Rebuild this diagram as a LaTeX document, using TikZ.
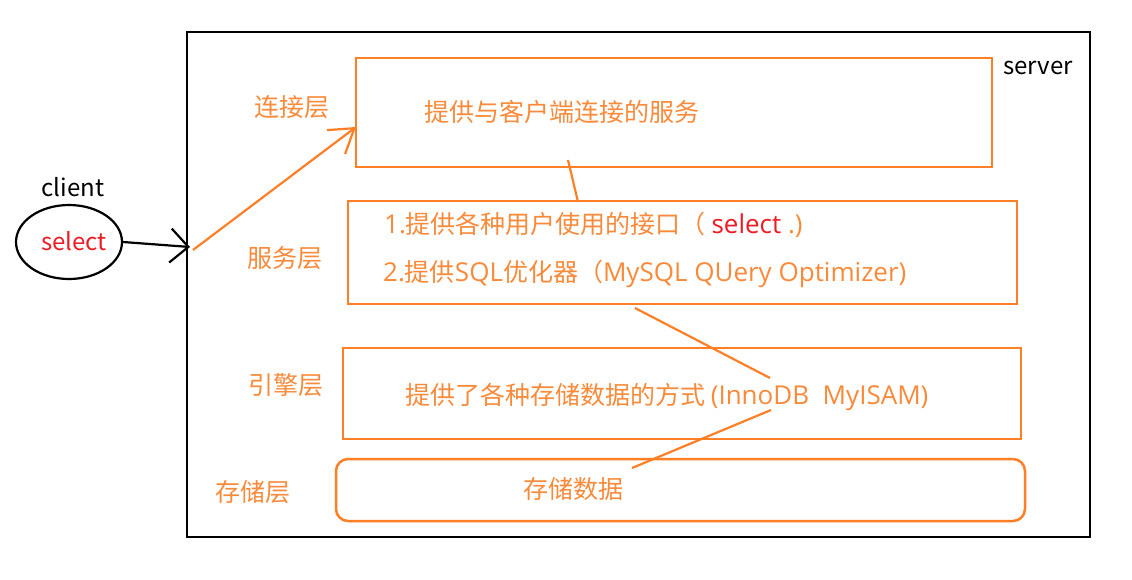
\documentclass[tikz,border=0pt]{standalone}
\usepackage{fontspec}
\setmainfont{Noto Sans CJK SC}
\newfontfamily\lat{Open Sans}
\newcommand\latin{\lat\fontsize{26}{29}\selectfont}
\usetikzlibrary{shapes.geometric,arrows.meta}
\definecolor{org}{HTML}{FF7F27}
\definecolor{orgtxt}{HTML}{F98A3A}
\definecolor{redtxt}{HTML}{ED1C24}
\begin{document}
\begin{tikzpicture}[x=1pt,y=-1pt,
  txt/.style={inner sep=0pt,font=\fontsize{24}{28}\selectfont},
  otxt/.style={inner sep=0pt,font=\fontsize{25}{29}\selectfont,text=orgtxt},
  layerbox/.style={draw=org,line width=2.5pt,inner sep=0pt},
  oline/.style={draw=org,line width=2.2pt},
]
\useasboundingbox[fill=white] (0,0) rectangle (1132,579);
% server frame
\node[draw=black,line width=2.8pt,minimum width=903pt,minimum height=505pt,inner sep=0pt] (srv) at (638.5,284.5) {};
\node[txt] (srvlbl) at (1038,68) {server};
% layer boxes
\node[layerbox,minimum width=636pt,minimum height=109pt] (conn) at (674,112.5) {};
\node[layerbox,minimum width=669pt,minimum height=103pt] (svc) at (682.5,252.5) {};
\node[layerbox,minimum width=678pt,minimum height=91pt] (eng) at (682,393.5) {};
\node[layerbox,rounded corners=12pt,minimum width=689pt,minimum height=62pt] (sto) at (680.5,490) {};
% layer labels
\node[otxt] (l1) at (292,107) {连接层};
\node[otxt] (l2) at (285,258) {服务层};
\node[otxt] (l3) at (286,385) {引擎层};
\node[otxt] (l4) at (253,492) {存储层};
% texts
\node[otxt] (t1) at (562,112) {提供与客户端连接的服务};
\node[otxt,anchor=west] (t2a) at (384,225) {{\latin 1.}提供各种用户使用的接口（ {\latin\textcolor{redtxt}{select} .)}};
\node[otxt,anchor=west] (t2b) at (383,274) {{\latin 2.}提供{\latin SQL}优化器（{\latin MySQL QUery Optimizer)}};
\node[otxt,anchor=west] (t3) at (405,397) {提供了各种存储数据的方式 {\latin (InnoDB\ \ MyISAM)}};
\node[otxt] (t4) at (573,489) {存储数据};
% client
\node[txt] (cl) at (73,187) {client};
\node[draw=black,line width=2.2pt,ellipse,minimum width=106pt,minimum height=74pt,inner sep=0pt] (sel) at (69,242) {};
\node[txt,text=redtxt] (seltxt) at (74,241) {select};
% connector coordinates
\coordinate (inpt) at (190,247);
\coordinate (ostart) at (193,250);
\coordinate (otip) at (356,127);
\coordinate (a1) at (568,160);
\coordinate (a2) at (578,202);
\coordinate (b1) at (635,308);
\coordinate (b2) at (770,378);
\coordinate (c1) at (771,410);
\coordinate (c2) at (632,468);
% connectors
\draw[line width=2.2pt,-{Straight Barb[length=18pt,width=34pt,line width=2.2pt]}] (sel.east) -- (inpt);
\draw[oline,-{Straight Barb[length=23pt,width=30pt,line width=2.2pt]}] (ostart) -- (otip);
\draw[oline] (a1) -- (a2);
\draw[oline] (b1) -- (b2);
\draw[oline] (c1) -- (c2);
\end{tikzpicture}
\end{document}
